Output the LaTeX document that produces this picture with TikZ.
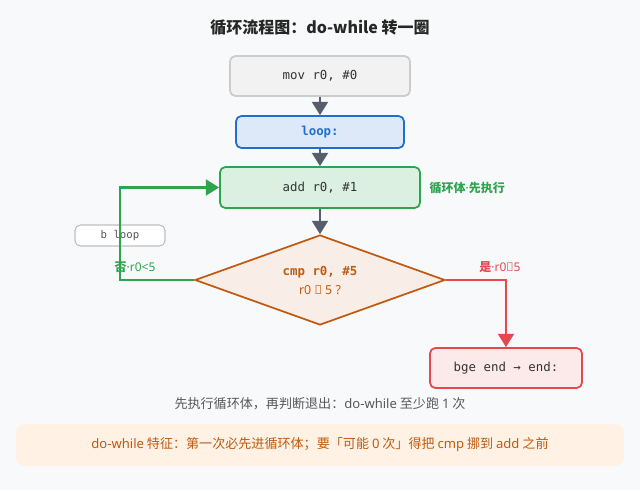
\documentclass[tikz,border=0pt]{standalone}
\usepackage{fontspec}
\setmainfont{Noto Sans CJK SC}
\setmonofont{DejaVu Sans Mono}
\newfontfamily\latn{Noto Sans}
\usetikzlibrary{shapes.geometric,arrows.meta}
\definecolor{bgc}{HTML}{F8F9FB}
\definecolor{arr}{HTML}{565D6B}
\definecolor{grn}{HTML}{2EA44F}
\definecolor{blu}{HTML}{1F6FD0}
\definecolor{org}{HTML}{C05A10}
\definecolor{rd}{HTML}{E5484D}
\newcommand{\dotsep}{{\latn·}}
\tikzset{
  box/.style={draw, rounded corners=4pt, line width=1.3pt, align=center, font=\ttfamily\fontsize{9.3}{11}\selectfont},
  flow/.style={line width=1.6pt, -{Triangle[length=10pt,width=12pt]}},
  lbl/.style={font=\bfseries\fontsize{9}{11}\selectfont},
}
\begin{document}
\begin{tikzpicture}[x=0.75pt,y=-0.75pt]
\fill[bgc] (0,0) rectangle (640,490);
\useasboundingbox (0,0) rectangle (640,490);
%%% title
\node[font=\bfseries\fontsize{12}{14}\selectfont, text=black!85] (title) at (320,28) {循环流程图：do-while 转一圈};
%%% boxes
\node[box, draw=black!20, fill=black!5, minimum width=180*0.75pt, minimum height=40*0.75pt, text=black!80] (mov) at (320,76) {mov r0, \#0};
\node[box, draw=blu, fill=blu!15, minimum width=168*0.75pt, minimum height=32*0.75pt, text=blu, font=\ttfamily\bfseries\fontsize{9.3}{11}\selectfont] (loop) at (320,132) {loop:};
\node[box, draw=grn, fill=grn!17, minimum width=200*0.75pt, minimum height=41*0.75pt, text=black!80] (add) at (320,187.5) {add r0, \#1};
\node[lbl, anchor=west, text=grn] (addlbl) at (425,188) {循环体\dotsep 先执行};
\node[diamond, draw=org, fill=org!10, line width=1.3pt, minimum width=250*0.75pt, minimum height=90*0.75pt, inner sep=0pt, aspect=2.78] (cmp) at (320,280) {};
\node[text=org, font=\ttfamily\bfseries\fontsize{9.3}{11}\selectfont] (cmpa) at (320,272) {cmp r0, \#5};
\node[text=org, font=\latn\fontsize{9.3}{11}\selectfont] (cmpb) at (320,290) {r0 ≥ 5 ?};
\node[box, draw=black!25, fill=white, line width=0.8pt, minimum width=90*0.75pt, minimum height=21*0.75pt, text=black!65, font=\ttfamily\fontsize{8}{9}\selectfont] (bl) at (120,235.5) {b loop};
\node[box, draw=rd, fill=rd!12, minimum width=152*0.75pt, minimum height=40*0.75pt, text=black!80] (bge) at (506,368) {bge end → end:};
%%% connectors
\draw[flow, arr] (mov) -- (loop);
\draw[flow, arr] (loop) -- (add);
\draw[flow, arr] (add) -- (cmp);
\draw[flow, grn] (cmp.west) -- (120,280) -- (120,187.5) -- (add.west);
\draw[flow, rd] (cmp.east) -| (bge.north);
\node[lbl, text=grn] (no) at (135,267) {否\dotsep{\latn\bfseries r0<5}};
\node[lbl, text=rd] (yes) at (500,267) {是\dotsep{\latn\bfseries r0≥5}};
%%% notes
\node[text=black!65, font=\fontsize{9.8}{11}\selectfont] (cap) at (320,404) {先执行循环体，再判断退出：{\latn do-while} 至少跑 {\latn 1} 次};
\fill[orange!10, rounded corners=6pt] (16,424) rectangle (624,466);
\node[text=org, font=\fontsize{9.8}{11}\selectfont] (note) at (320,445) {{\latn do-while} 特征：第一次必先进循环体；要「可能 {\latn 0} 次」得把 {\latn cmp} 挪到 {\latn add} 之前};
\end{tikzpicture}
\end{document}
